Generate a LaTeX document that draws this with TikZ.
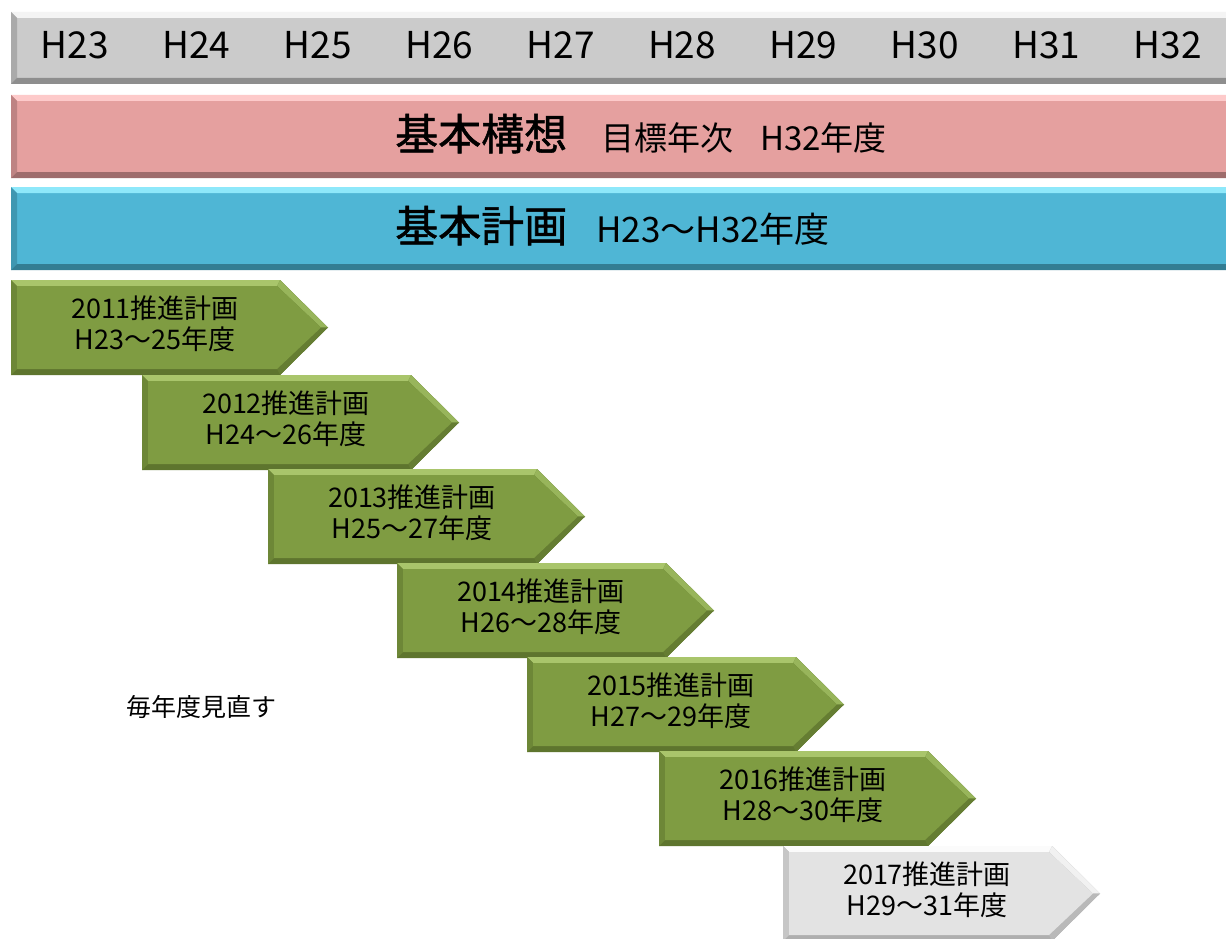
\documentclass[tikz,border=0pt]{standalone}
\usepackage{fontspec}
\setmainfont{Noto Sans CJK JP}
\newfontfamily\jpheavy[FakeBold=1.2]{Noto Sans CJK JP}
\definecolor{grayB}{HTML}{CBCBCB}
\definecolor{grayL}{HTML}{F4F4F4}
\definecolor{grayD}{HTML}{8E8E8E}
\definecolor{pinkB}{HTML}{E5A09F}
\definecolor{pinkL}{HTML}{FDCACA}
\definecolor{pinkD}{HTML}{9E6C6C}
\definecolor{blueB}{HTML}{4FB6D5}
\definecolor{blueL}{HTML}{8EE8FA}
\definecolor{blueD}{HTML}{337D93}
\definecolor{greenB}{HTML}{7F9C42}
\definecolor{greenL}{HTML}{A9C56B}
\definecolor{greenD}{HTML}{5E752E}
\definecolor{pgrayB}{HTML}{E3E3E3}
\definecolor{pgrayL}{HTML}{FBFBFB}
\definecolor{pgrayD}{HTML}{AFAFAF}
\tikzset{
  yeartext/.style={inner sep=0pt, font=\fontsize{37}{37}\selectfont},
  arrtext/.style={inner sep=0pt, align=center, font=\fontsize{27}{31}\selectfont},
  notetext/.style={inner sep=0pt, font=\fontsize{25}{25}\selectfont},
  bartext/.style={inner sep=0pt, anchor=base west}
}
% bar with bevel: #1 top, #2 bottom, #3 base, #4 light, #5 dark
\newcommand\bevbar[5]{%
  \fill[#3] (11,#1) rectangle (1240,#2);
  \fill[#4] (11,#1) -- (1240,#1) -- (1240,#1+6) -- (17,#1+6) -- cycle;
  \fill[#5!55!#3] (11,#1) -- (17,#1+6) -- (17,#2-6) -- (11,#2) -- cycle;
  \fill[#5] (11,#2) -- (17,#2-6) -- (1240,#2-6) -- (1240,#2) -- cycle;
}
% arrow with bevel: #1 name, #2 left, #3 top, #4 base, #5 light, #6 dark, #7 line1, #8 line2
\newcommand\bevarrow[8]{%
  \begin{scope}[shift={(#2,#3)}]
    \fill[#6] (0,0) -- (269,0) -- (317,47.5) -- (269,95) -- (0,95) -- cycle;
    \fill[#5] (0,0) -- (269,0) -- (266,6) -- (6,6) -- cycle;
    \fill[#5!60!#4] (269,0) -- (317,47.5) -- (310,47.5) -- (266,6) -- cycle;
    \fill[#6!55!#4] (0,0) -- (6,6) -- (6,89) -- (0,95) -- cycle;
    \fill[#6!80!#4] (317,47.5) -- (269,95) -- (266,89) -- (310,47.5) -- cycle;
    \fill[#4] (6,6) -- (266,6) -- (310,47.5) -- (266,89) -- (6,89) -- cycle;
  \end{scope}
  \node[arrtext] (#1) at (#2+144,#3+44) {#7\\#8};
}
\begin{document}
\begin{tikzpicture}[x=1pt,y=-1pt]
\useasboundingbox (0,0) rectangle (1226,939);
\clip (0,0) rectangle (1226,939);
\fill[white] (0,0) rectangle (1226,939);
% top bars
\bevbar{12}{84}{grayB}{grayL}{grayD}
\bevbar{95}{178}{pinkB}{pinkL}{pinkD}
\bevbar{187}{270}{blueB}{blueL}{blueD}
% year labels
\foreach \i [count=\k from 0] in {23,...,32}
  \node[yeartext] (y\i) at (75+121.4*\k,45) {H\i};
% bar texts
\node[bartext] (kousou) at (395,150)
  {{\fontsize{43}{43}\selectfont\jpheavy 基本構想}\hspace{34pt}{\fontsize{33}{33}\selectfont 目標年次\hspace{27pt}H32年度}};
\node[bartext] (keikaku) at (395,242)
  {{\fontsize{43}{43}\selectfont\jpheavy 基本計画}\hspace{29pt}{\fontsize{35}{35}\selectfont H23～H32年度}};
% plan arrows
\bevarrow{p2011}{11}{280}{greenB}{greenL}{greenD}{2011推進計画}{H23～25年度}
\bevarrow{p2012}{142}{375}{greenB}{greenL}{greenD}{2012推進計画}{H24～26年度}
\bevarrow{p2013}{268}{469}{greenB}{greenL}{greenD}{2013推進計画}{H25～27年度}
\bevarrow{p2014}{397}{563}{greenB}{greenL}{greenD}{2014推進計画}{H26～28年度}
\bevarrow{p2015}{527}{657}{greenB}{greenL}{greenD}{2015推進計画}{H27～29年度}
\bevarrow{p2016}{659}{751}{greenB}{greenL}{greenD}{2016推進計画}{H28～30年度}
\bevarrow{p2017}{783}{846}{pgrayB}{pgrayL}{pgrayD}{2017推進計画}{H29～31年度}
% note
\node[notetext] (note) at (201,707) {毎年度見直す};
\end{tikzpicture}
\end{document}
